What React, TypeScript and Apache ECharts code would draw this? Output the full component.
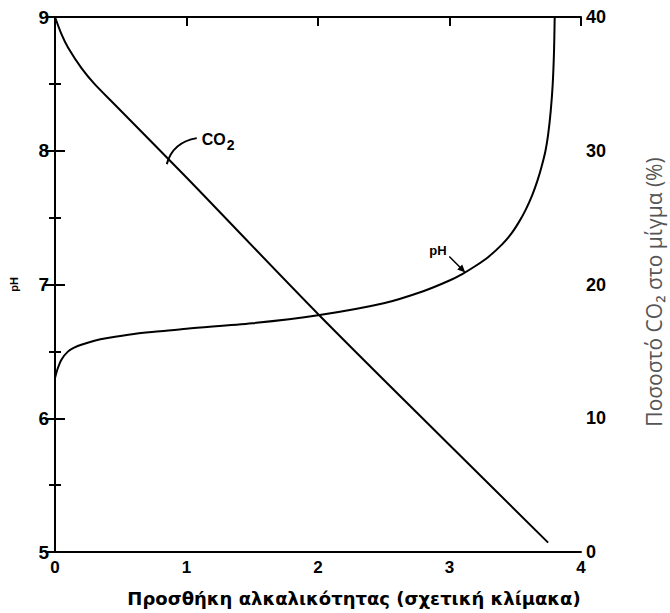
import React, { useEffect, useRef } from "react";
import * as echarts from "echarts";

// Alkalinity addition (relative scale)
const phX = [0, 0.02, 0.05, 0.1, 0.15, 0.2, 0.3, 0.4, 0.6, 0.8, 1.0, 1.5, 2.0, 2.5, 2.8, 3.0, 3.1, 3.2, 3.3, 3.4, 3.47, 3.53, 3.58, 3.63, 3.67, 3.7, 3.73, 3.75, 3.77, 3.785, 3.795, 3.8];
const phY = [6.3, 6.37, 6.44, 6.5, 6.53, 6.55, 6.58, 6.6, 6.63, 6.65, 6.67, 6.71, 6.77, 6.86, 6.95, 7.03, 7.08, 7.14, 7.21, 7.3, 7.38, 7.47, 7.56, 7.67, 7.78, 7.88, 8.0, 8.12, 8.3, 8.5, 8.75, 9.0];
const co2X = [0, 0.05, 0.1, 0.2, 0.3, 0.45, 0.6, 1.0, 2.0, 3.0, 3.75];
const co2Y = [40, 38.7, 37.7, 36.2, 35.0, 33.5, 32.0, 28.0, 17.8, 8.0, 0.7];
const xTicks = ["0", "1", "2", "3", "4"];
const xTitle = "Προσθήκη αλκαλικότητας (σχετική κλίμακα)";
const rightTitle = "Ποσοστό CO₂ στο μίγμα (%)";
const co2Anchor = [0.85, 29.0];
const phAnchor = [3.12, 7.09];

const FONT = "'Liberation Sans', Arial, sans-serif";

export default function App() {
  const ref = useRef<HTMLDivElement>(null);
  useEffect(() => {
    const chart = echarts.init(ref.current!, null, { renderer: "svg" });
    const axisLine = { lineStyle: { color: "#000", width: 2 } };
    const lbl = { color: "#000", fontFamily: FONT, fontWeight: "bold" as const, fontSize: 17 };
    chart.setOption({
      animation: false,
      backgroundColor: "#fff",
      grid: { left: 51, right: 89, top: 17, bottom: 61 },
      xAxis: [
        {
          type: "value", min: 0, max: 4, interval: 1, position: "bottom",
          axisLine, axisTick: { show: false }, splitLine: { show: false },
          axisLabel: { ...lbl, margin: 7, formatter: (v: number) => xTicks[Math.round(v)] ?? "" },
        },
        {
          type: "value", min: 0, max: 4, interval: 1, position: "top",
          axisLine, axisTick: { inside: true, length: 9, lineStyle: { width: 2, color: "#000" } },
          axisLabel: { show: false }, splitLine: { show: false },
        },
      ],
      yAxis: [
        {
          type: "value", min: 5, max: 9, interval: 1, position: "left",
          name: "pH", nameLocation: "middle", nameRotate: 90, nameGap: 36,
          nameTextStyle: { color: "#000", fontFamily: FONT, fontWeight: "bold", fontSize: 11 },
          axisLine, axisTick: { inside: true, length: 10, lineStyle: { width: 2, color: "#000" } },
          minorTick: { show: true, splitNumber: 2, length: 6, lineStyle: { width: 2, color: "#000" } },
          axisLabel: { ...lbl, fontSize: 19, margin: 6 }, splitLine: { show: false }, minorSplitLine: { show: false },
        },
        {
          type: "value", min: 0, max: 40, interval: 10, position: "right",
          axisLine, axisTick: { inside: true, length: 10, lineStyle: { width: 2, color: "#000" } },
          minorTick: { show: true, splitNumber: 2, length: 6, lineStyle: { width: 2, color: "#000" } },
          axisLabel: { ...lbl, fontSize: 18, margin: 5 }, splitLine: { show: false }, minorSplitLine: { show: false },
        },
      ],
      series: [
        {
          type: "line", name: "pH", xAxisIndex: 0, yAxisIndex: 0, showSymbol: false,
          smooth: 0.3,
          lineStyle: { color: "#000", width: 2 },
          data: phX.map((x, i) => [x, phY[i]]),
        },
        {
          type: "line", name: "CO2", xAxisIndex: 0, yAxisIndex: 1, showSymbol: false,
          smooth: 0.3,
          lineStyle: { color: "#000", width: 2 },
          data: co2X.map((x, i) => [x, co2Y[i]]),
        },
      ],
    });

    const c = chart.convertToPixel({ xAxisIndex: 0, yAxisIndex: 1 }, co2Anchor) as number[];
    const p = chart.convertToPixel({ xAxisIndex: 0, yAxisIndex: 0 }, phAnchor) as number[];
    const ps = [p[0] - 16, p[1] - 16];
    chart.setOption({
      graphic: [
        {
          type: "bezierCurve",
          shape: { x1: c[0], y1: c[1], cpx1: c[0] + 6, cpy1: c[1] - 22, x2: c[0] + 30, y2: c[1] - 26 },
          style: { stroke: "#000", lineWidth: 2, fill: "none" },
        },
        {
          type: "text", x: c[0] + 35, y: c[1] - 38,
          style: {
            text: "CO{s|2}", fill: "#000", font: `bold 16px ${FONT}`,
            rich: { s: { fontSize: 14, fontWeight: "bold", fontFamily: FONT, padding: [12, 0, 0, 1] } },
          },
        },
        {
          type: "line",
          shape: { x1: ps[0], y1: ps[1], x2: p[0] - 3, y2: p[1] - 3 },
          style: { stroke: "#000", lineWidth: 1.5 },
        },
        {
          type: "polygon",
          shape: { points: [[p[0], p[1]], [p[0] - 8, p[1] - 3], [p[0] - 3, p[1] - 8]] },
          style: { fill: "#000" },
        },
        {
          type: "text", x: ps[0] - 20, y: ps[1] - 12,
          style: { text: "pH", fill: "#000", font: `bold 13px ${FONT}` },
        },
        {
          type: "text", x: 354, y: 598,
          style: { text: xTitle, fill: "#000", font: `bold 18px 'DejaVu Sans', sans-serif`, align: "center", verticalAlign: "middle" },
        },
        {
          type: "text", x: 643, y: 292, rotation: Math.PI / 2,
          style: { text: rightTitle, fill: "#555", font: `21px 'Open Sans', sans-serif`, align: "center", verticalAlign: "top" },
        },
      ],
    });
    return () => chart.dispose();
  }, []);
  return <div ref={ref} style={{ position: "absolute", left: 0, top: 0, width: 670, height: 613 }} />;
}
